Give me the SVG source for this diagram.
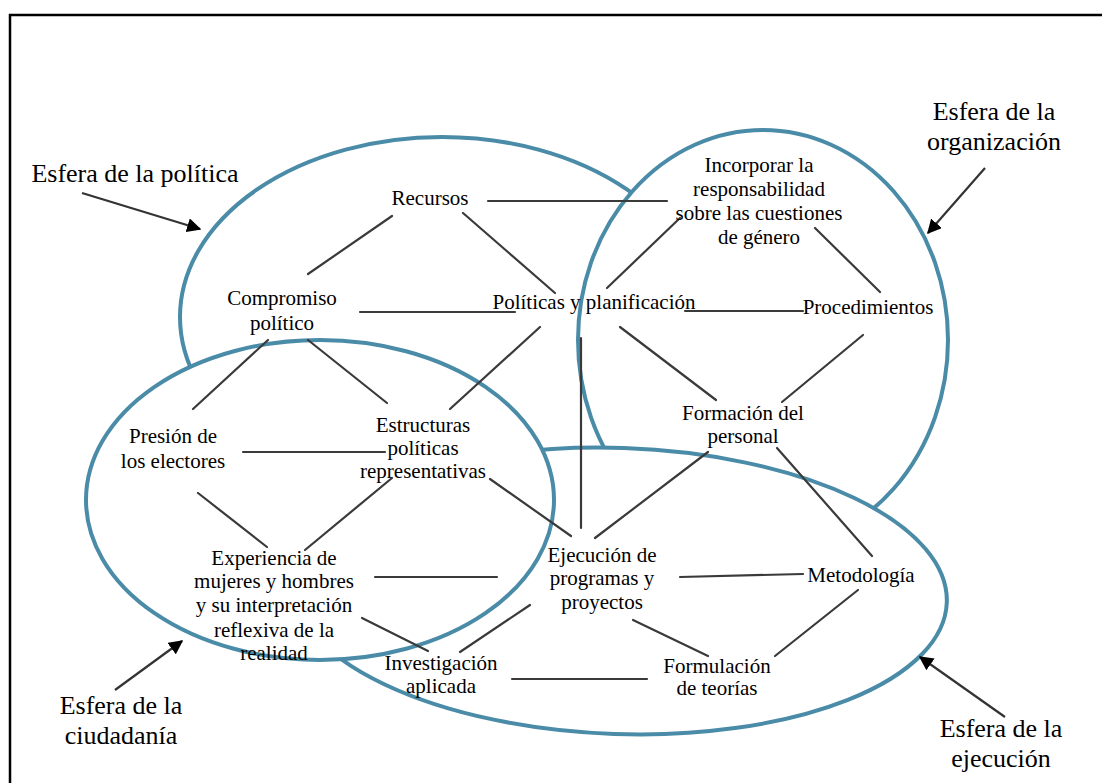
<svg xmlns="http://www.w3.org/2000/svg" width="1102" height="783" viewBox="0 0 1102 783">
<defs>
<style>
.sphere{fill:#ffffff;stroke:#4a8ba8;stroke-width:4}
.lbl{font-size:21px;fill:#000;text-anchor:middle}
.big{font-size:26px;fill:#000;text-anchor:middle}
.con line{stroke:#3a3a3a;stroke-width:2.2;stroke-linecap:round}
.arr{stroke:#333;stroke-width:2.2;fill:none}
</style>
<marker id="ah" viewBox="0 0 10 10" refX="9" refY="5" markerWidth="6.5" markerHeight="6.5" markerUnits="strokeWidth" orient="auto">
<path d="M0,0 L10,5 L0,10 z" fill="#000"/>
</marker>
</defs>
<rect x="0" y="0" width="1102" height="783" fill="#ffffff"/>
<path d="M10,783 L10,15 L1102,15" fill="none" stroke="#000" stroke-width="2.5"/>

<g id="spheres">
<ellipse id="esfera-politica" class="sphere" cx="442" cy="317" rx="262" ry="180"/>
<ellipse id="esfera-organizacion" class="sphere" cx="763" cy="340" rx="185" ry="210"/>
<ellipse id="esfera-ejecucion" class="sphere" cx="619" cy="591" rx="328" ry="143" transform="rotate(2 619 591)"/>
<ellipse id="esfera-ciudadania" class="sphere" cx="320" cy="500" rx="234" ry="160"/>
</g>

<g font-family="'Liberation Serif', 'Times New Roman', 'DejaVu Serif', serif">
<g id="sphere-labels">
<g id="lbl-politica"><text class="big" x="135" y="182">Esfera de la política</text><line class="arr" x1="82" y1="193" x2="200" y2="229" marker-end="url(#ah)"/></g>
<g id="lbl-organizacion"><text class="big" x="994" y="120">Esfera de la</text><text class="big" x="994" y="150">organización</text><line class="arr" x1="985" y1="168" x2="928" y2="233" marker-end="url(#ah)"/></g>
<g id="lbl-ciudadania"><text class="big" x="121" y="714">Esfera de la</text><text class="big" x="121" y="744">ciudadanía</text><line class="arr" x1="115" y1="690" x2="182" y2="641" marker-end="url(#ah)"/></g>
<g id="lbl-ejecucion"><text class="big" x="1001" y="737">Esfera de la</text><text class="big" x="1001" y="767">ejecución</text><line class="arr" x1="1005" y1="717" x2="920" y2="657" marker-end="url(#ah)"/></g>
</g>

<g id="connectors" class="con">
<line x1="488" y1="201" x2="667" y2="201"/>
<line x1="308" y1="274" x2="392" y2="216"/>
<line x1="463" y1="213" x2="555" y2="293"/>
<line x1="360" y1="312" x2="515" y2="312"/>
<line x1="680" y1="218" x2="607" y2="288"/>
<line x1="815" y1="228" x2="880" y2="292"/>
<line x1="685" y1="311" x2="803" y2="311"/>
<line x1="620" y1="327" x2="716" y2="400"/>
<line x1="863" y1="335" x2="782" y2="402"/>
<line x1="540" y1="327" x2="450" y2="409"/>
<line x1="268" y1="340" x2="193" y2="409"/>
<line x1="308" y1="340" x2="387" y2="403"/>
<line x1="243" y1="452" x2="385" y2="452"/>
<line x1="198" y1="493" x2="267" y2="547"/>
<line x1="392" y1="478" x2="305" y2="550"/>
<line x1="490" y1="479" x2="571" y2="536"/>
<line x1="581" y1="338" x2="581" y2="528"/>
<line x1="708" y1="452" x2="595" y2="538"/>
<line x1="777" y1="448" x2="872" y2="556"/>
<line x1="375" y1="577" x2="497" y2="577"/>
<line x1="680" y1="577" x2="803" y2="574"/>
<line x1="530" y1="605" x2="460" y2="652"/>
<line x1="362" y1="618" x2="428" y2="651"/>
<line x1="512" y1="679" x2="647" y2="679"/>
<line x1="633" y1="620" x2="708" y2="656"/>
<line x1="858" y1="590" x2="775" y2="656"/>
</g>

<g id="node-recursos"><text class="lbl" x="430" y="205">Recursos</text></g>
<g id="node-incorporar"><text class="lbl" x="759" y="172">Incorporar la</text><text class="lbl" x="759" y="196">responsabilidad</text><text class="lbl" x="759" y="220">sobre las cuestiones</text><text class="lbl" x="759" y="244">de género</text></g>
<g id="node-compromiso"><text class="lbl" x="282" y="305">Compromiso</text><text class="lbl" x="282" y="330">político</text></g>
<g id="node-politicas"><text class="lbl" x="594" y="309">Políticas y planificación</text></g>
<g id="node-procedimientos"><text class="lbl" x="868" y="314">Procedimientos</text></g>
<g id="node-presion"><text class="lbl" x="173" y="443">Presión de</text><text class="lbl" x="173" y="468">los electores</text></g>
<g id="node-estructuras"><text class="lbl" x="423" y="432">Estructuras</text><text class="lbl" x="423" y="455">políticas</text><text class="lbl" x="423" y="478">representativas</text></g>
<g id="node-formacion"><text class="lbl" x="743" y="420">Formación del</text><text class="lbl" x="743" y="443">personal</text></g>
<g id="node-experiencia"><text class="lbl" x="274" y="565">Experiencia de</text><text class="lbl" x="274" y="588">mujeres y hombres</text><text class="lbl" x="274" y="612">y su interpretación</text><text class="lbl" x="274" y="637">reflexiva de la</text><text class="lbl" x="274" y="660">realidad</text></g>
<g id="node-ejecucion"><text class="lbl" x="602" y="562">Ejecución de</text><text class="lbl" x="602" y="585">programas y</text><text class="lbl" x="602" y="609">proyectos</text></g>
<g id="node-metodologia"><text class="lbl" x="861" y="582">Metodología</text></g>
<g id="node-investigacion"><text class="lbl" x="441" y="670">Investigación</text><text class="lbl" x="441" y="693">aplicada</text></g>
<g id="node-formulacion"><text class="lbl" x="717" y="673">Formulación</text><text class="lbl" x="717" y="695">de teorías</text></g>
</g>
</svg>
